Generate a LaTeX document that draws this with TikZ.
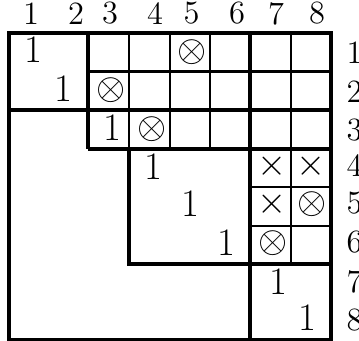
\documentclass[tikz,border=0pt]{standalone}
\begin{document}
\begin{tikzpicture}[x=0.385pt,y=-0.385pt,
  gridthin/.style={line width=0.8pt},
  gridthick/.style={line width=1.2pt},
  hdr/.style={font=\fontsize{12.5}{15}\selectfont, inner sep=0pt},
  cell/.style={font=\fontsize{15}{18}\selectfont, inner sep=0pt}]
\useasboundingbox (0,0) rectangle (359,341);
% column headers
\node[hdr] (c1) at (31,13.5) {1};
\node[hdr] (c2) at (76,13.5) {2};
\node[hdr] (c3) at (110,13.5) {3};
\node[hdr] (c4) at (155,13.5) {4};
\node[hdr] (c5) at (191.5,13.5) {5};
\node[hdr] (c6) at (237,13.5) {6};
\node[hdr] (c7) at (276,13.5) {7};
\node[hdr] (c8) at (317,13.5) {8};
% row labels
\node[hdr,anchor=west] (r1) at (346,53) {1};
\node[hdr,anchor=west] (r2) at (346,92) {2};
\node[hdr,anchor=west] (r3) at (346,130) {3};
\node[hdr,anchor=west] (r4) at (346,166) {4};
\node[hdr,anchor=west] (r5) at (346,203) {5};
\node[hdr,anchor=west] (r6) at (346,242) {6};
\node[hdr,anchor=west] (r7) at (346,282) {7};
\node[hdr,anchor=west] (r8) at (346,320) {8};
% thin grid lines
\draw[gridthin] (88,71.5) -- (331,71.5);
\draw[gridthin] (129,33) -- (129,149);
\draw[gridthin] (170,33) -- (170,149);
\draw[gridthin] (210,33) -- (210,149);
\draw[gridthin] (291,33) -- (291,264);
\draw[gridthin] (250,187) -- (331,187);
\draw[gridthin] (250,226) -- (331,226);
% thick block borders
\draw[gridthick] (9,33) rectangle (331,340);
\draw[gridthick] (88,33) -- (88,149);
\draw[gridthick] (9,110) -- (331,110);
\draw[gridthick] (88,149) -- (331,149);
\draw[gridthick] (129,149) -- (129,264) -- (331,264);
\draw[gridthick] (250,33) -- (250,340);
% entries
\node[cell] (a11) at (33,50) {1};
\node[cell] (a22) at (63,89) {1};
\node[cell] (a15) at (192,52) {$\otimes$};
\node[cell] (a23) at (111,90) {$\otimes$};
\node[cell] (a33) at (112,128) {1};
\node[cell] (a34) at (152,129) {$\otimes$};
\node[cell] (a44) at (153,167) {1};
\node[cell] (a55) at (190,204) {1};
\node[cell] (a66) at (226,243) {1};
\node[cell] (a47) at (272,166) {$\times$};
\node[cell] (a48) at (311,166) {$\times$};
\node[cell] (a57) at (272,204) {$\times$};
\node[cell] (a58) at (312,204) {$\otimes$};
\node[cell] (a67) at (273,243) {$\otimes$};
\node[cell] (a77) at (278,282) {1};
\node[cell] (a88) at (307,318) {1};
\end{tikzpicture}
\end{document}
